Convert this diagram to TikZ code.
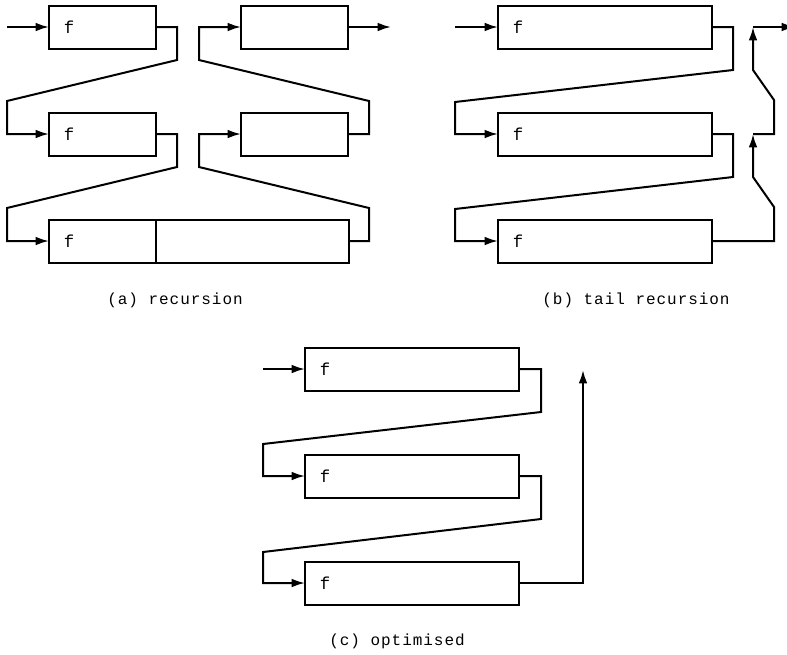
\documentclass[tikz,border=0pt]{standalone}
\usepackage{fontspec}
\setmonofont{Liberation Mono}
\newfontfamily\capfont[LetterSpace=6]{Liberation Mono}
\usetikzlibrary{arrows.meta}
\begin{document}
\begin{tikzpicture}[x=0.75pt,y=-0.75pt, line width=1.5pt,
 box/.style={draw, rectangle, inner sep=0pt, outer sep=0pt, minimum height=32.25pt, anchor=west},
 narrow/.style={box, minimum width=80.25pt},
 wide/.style={box, minimum width=160.5pt},
 ftext/.style={font=\ttfamily\fontsize{13}{15}\selectfont, inner sep=0pt},
 caption/.style={font=\capfont\fontsize{12}{14}\selectfont, inner sep=0pt},
 conn/.style={-{Latex[length=10pt,width=6.5pt]}, line join=miter},
]
\useasboundingbox (0,0) rectangle (787,654);
% (a) recursion
\node[narrow] (a1) at (49,27) {};
\node[narrow] (a2) at (49,134) {};
\node[narrow] (a3) at (49,241) {};
\node[box, minimum width=144.75pt] (a3r) at (a3.east) {};
\node[narrow] (a4) at (241,134) {};
\node[narrow] (a5) at (241,27) {};
\node[ftext] (fa1) at ([xshift=15pt]a1.west) {f};
\node[ftext] (fa2) at ([xshift=15pt]a2.west) {f};
\node[ftext] (fa3) at ([xshift=15pt]a3.west) {f};
\coordinate (ain) at (7,27);
\coordinate (aout) at (391,27);
\draw[conn] (ain) -- (a1.west);
\draw[conn] (a1.east) -- (177,27) -- (177,60) -- (7,101) -- (7,134) -- (a2.west);
\draw[conn] (a2.east) -- (177,134) -- (177,167) -- (7,208) -- (7,241) -- (a3.west);
\draw[conn] (a3r.east) -- (369,241) -- (369,208) -- (199,167) -- (199,134) -- (a4.west);
\draw[conn] (a4.east) -- (369,134) -- (369,101) -- (199,60) -- (199,27) -- (a5.west);
\draw[conn] (a5.east) -- (aout);
\node[caption] (capa) at (175,300) {(a) recursion};
% (b) tail recursion
\node[wide] (b1) at (498,27) {};
\node[wide] (b2) at (498,134) {};
\node[wide] (b3) at (498,241) {};
\node[ftext] (fb1) at ([xshift=15pt]b1.west) {f};
\node[ftext] (fb2) at ([xshift=15pt]b2.west) {f};
\node[ftext] (fb3) at ([xshift=15pt]b3.west) {f};
\coordinate (bin) at (455,27);
\coordinate (bj2) at (753,134);
\coordinate (bj1) at (753,27);
\coordinate (bout) at (795,27);
\draw[conn] (bin) -- (b1.west);
\draw[conn] (b1.east) -- (733,27) -- (733,70) -- (455,102) -- (455,134) -- (b2.west);
\draw[conn] (b2.east) -- (733,134) -- (733,177) -- (455,209) -- (455,241) -- (b3.west);
\draw[conn] (b3.east) -- (774,241) -- (774,207) -- (753,177) -- (bj2);
\draw[conn] (bj2) -- (774,134) -- (774,100) -- (753,70) -- (bj1);
\draw[conn] (bj1) -- (bout);
\node[caption] (capb) at (636,300) {(b) tail recursion};
% (c) optimised
\node[wide] (c1) at (305,369) {};
\node[wide] (c2) at (305,476) {};
\node[wide] (c3) at (305,583) {};
\node[ftext] (fc1) at ([xshift=15pt]c1.west) {f};
\node[ftext] (fc2) at ([xshift=15pt]c2.west) {f};
\node[ftext] (fc3) at ([xshift=15pt]c3.west) {f};
\coordinate (cin) at (263,369);
\coordinate (cout) at (583,370);
\draw[conn] (cin) -- (c1.west);
\draw[conn] (c1.east) -- (541,369) -- (541,412) -- (263,444) -- (263,476) -- (c2.west);
\draw[conn] (c2.east) -- (541,476) -- (541,519) -- (263,552) -- (263,583) -- (c3.west);
\draw[conn] (c3.east) -- (583,583) -- (cout);
\node[caption] (capc) at (397,641) {(c) optimised};
\end{tikzpicture}
\end{document}
